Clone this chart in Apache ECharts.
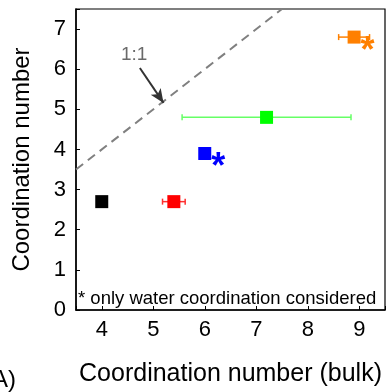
<!DOCTYPE html>
<html>
<head>
<meta charset="utf-8">
<script src="https://cdn.jsdelivr.net/npm/echarts@6/dist/echarts.min.js"></script>
<style>html,body{margin:0;padding:0;background:#fff}#c{width:391px;height:392px}</style>
</head>
<body>
<div id="c"></div>
<script>
// ---- data ----
const bulkCN = [4.0, 5.4, 6.0, 7.2, 8.9];
const coordCN = [2.7, 2.7, 3.9, 4.8, 6.8];
const xErr = [0, 0.22, 0, 1.64, 0.3];
const waterOnly = [false, false, true, false, true];
const pointColors = ['#000000', '#ff0000', '#0000ff', '#00ff00', '#ff8000'];
const errColors = ['#000000', '#ff3030', '#0000ff', '#66ff66', '#ff8000'];
const identityLine = [[3.5, 3.5], [7.5, 7.5]];
const arrowFrom = [4.74, 6.03];
const arrowTo = [5.2, 5.16];
const identityLabelPos = [4.63, 6.37];
const xTicks = [4, 5, 6, 7, 8, 9];
const yTicks = [0, 1, 2, 3, 4, 5, 6, 7];

const FONT = "'Liberation Sans', Arial, Helvetica, sans-serif";
const chart = echarts.init(document.getElementById('c'), null, {renderer: 'canvas'});

const pts = bulkCN.map((x, i) => ({
  value: [x, coordCN[i]],
  itemStyle: {color: pointColors[i], opacity: 1},
  label: {
    show: waterOnly[i], formatter: '*', position: 'right', distance: 0,
    offset: [0, 15], color: pointColors[i], fontSize: 36, fontWeight: 'bold', fontFamily: FONT
  }
}));

const errData = bulkCN.map((x, i) => [x, coordCN[i], xErr[i], i]);

chart.setOption({
  animation: false,
  grid: {left: 76, right: 6, top: 9, bottom: 74, show: true, borderColor: '#000', borderWidth: 1.2, backgroundColor: 'transparent'},
  xAxis: {
    type: 'value', min: 3.5, max: 9.5, splitNumber: 6,
    name: 'Coordination number (bulk)', nameLocation: 'middle', nameGap: 52,
    nameTextStyle: {fontSize: 25, color: '#000', fontFamily: FONT},
    axisLine: {lineStyle: {color: '#000', width: 1.5}},
    axisTick: {inside: true, length: 4, lineStyle: {color: '#000'}},
    axisLabel: {
      margin: 9, fontSize: 22, color: '#000', fontFamily: FONT,
      formatter: v => xTicks.indexOf(v) >= 0 ? String(v) : ''
    },
    splitLine: {show: false}
  },
  yAxis: {
    type: 'value', min: 0, max: 7.5, interval: 1,
    name: 'Coordination number', nameLocation: 'middle', nameGap: 42,
    nameTextStyle: {fontSize: 24, color: '#000', fontFamily: FONT},
    axisLine: {lineStyle: {color: '#000', width: 1.5}},
    axisTick: {inside: true, length: 4, lineStyle: {color: '#000'}},
    axisLabel: {
      margin: 10, fontSize: 22, color: '#000', fontFamily: FONT,
      formatter: v => yTicks.indexOf(v) >= 0 ? String(v) : ''
    },
    splitLine: {show: false}
  },
  series: [
    {
      type: 'line', data: identityLine, symbol: 'none', silent: true,
      lineStyle: {color: '#808080', width: 2, type: [9, 6]}, z: 1
    },
    {
      type: 'line', data: [], symbol: 'none', silent: true,
      markLine: {
        silent: true, animation: false,
        symbol: ['none', 'arrow'], symbolSize: [9, 14],
        label: {show: false},
        lineStyle: {color: '#333', width: 2, type: 'solid'},
        data: [[{coord: arrowFrom}, {coord: arrowTo}]]
      }
    },
    {
      type: 'scatter', data: [identityLabelPos], symbolSize: 0, silent: true,
      label: {show: true, position: 'inside', formatter: '1:1', fontSize: 19, color: '#444', fontFamily: FONT}
    },
    {
      type: 'custom', data: errData, z: 2, silent: true,
      renderItem: (params, api) => {
        const x = api.value(0), y = api.value(1), e = api.value(2), i = api.value(3);
        if (!e) return null;
        const p0 = api.coord([x - e, y]);
        const p1 = api.coord([x + e, y]);
        const c = errColors[i];
        const cap = 3;
        const st = {stroke: c, lineWidth: 1.5};
        return {
          type: 'group', children: [
            {type: 'line', shape: {x1: p0[0], y1: p0[1], x2: p1[0], y2: p1[1]}, style: st},
            {type: 'line', shape: {x1: p0[0], y1: p0[1] - cap, x2: p0[0], y2: p0[1] + cap}, style: st},
            {type: 'line', shape: {x1: p1[0], y1: p1[1] - cap, x2: p1[0], y2: p1[1] + cap}, style: st}
          ]
        };
      }
    },
    {
      type: 'scatter', data: pts, symbol: 'rect', symbolSize: 13, z: 3
    }
  ],
  graphic: [
    {type: 'text', left: 78, top: 289, silent: true,
     style: {text: '* only water coordination considered', fontSize: 18.5, fill: '#000', fontFamily: FONT}},
    {type: 'text', left: -16, top: 368, silent: true,
     style: {text: '(A)', fontSize: 24, fill: '#000', fontFamily: FONT}}
  ]
});
</script>
</body>
</html>
